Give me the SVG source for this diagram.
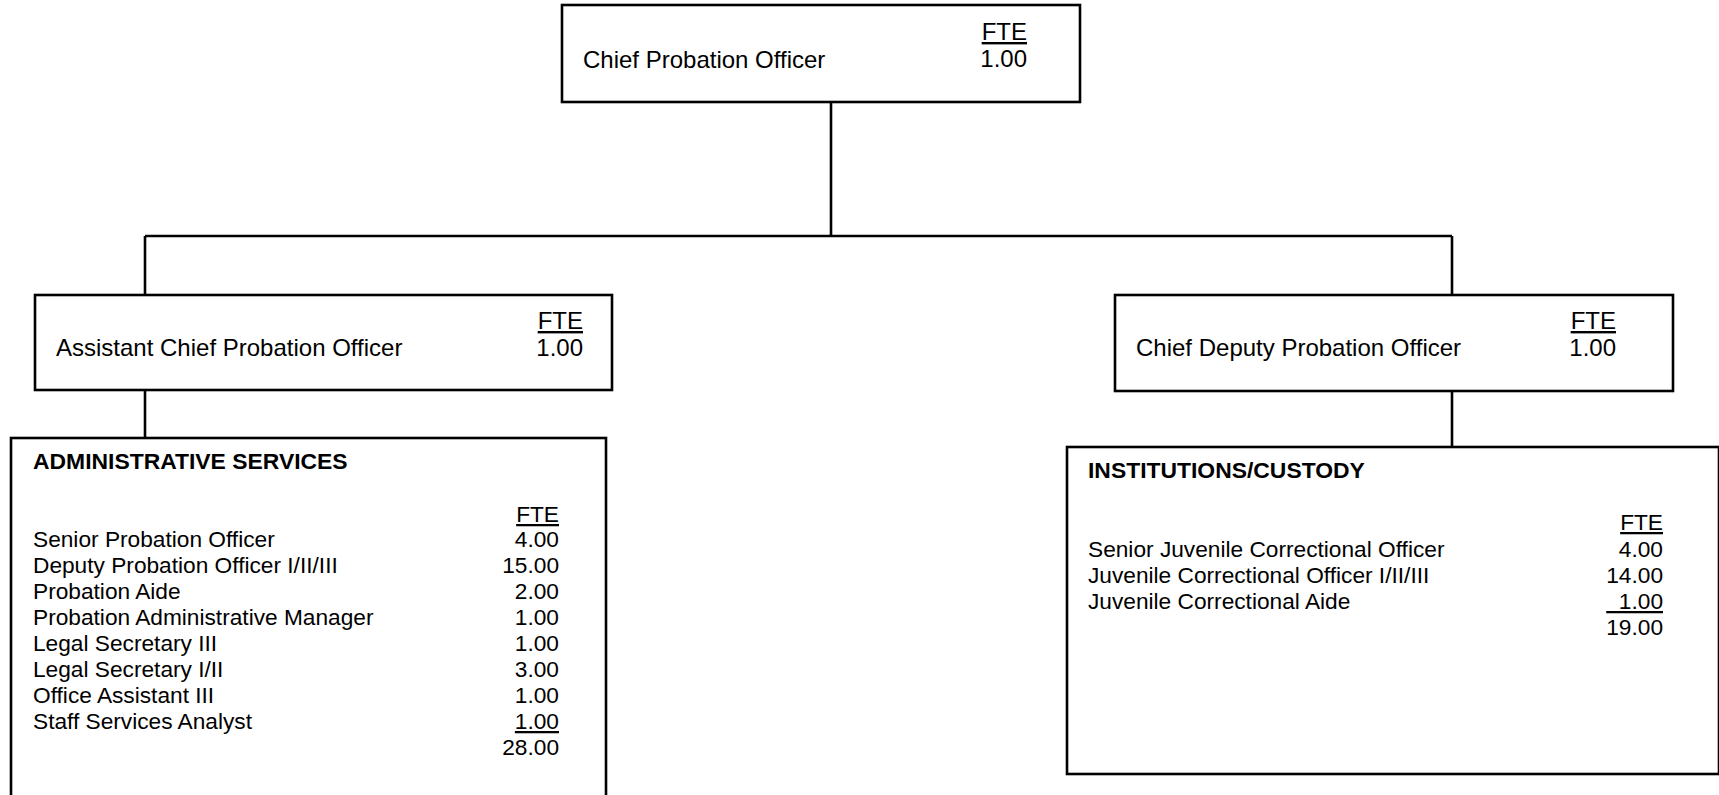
<svg xmlns="http://www.w3.org/2000/svg" width="1719" height="795" viewBox="0 0 1719 795">
<style>
.box{fill:#fff;stroke:#000;stroke-width:2.6}
.ln{stroke:#000;stroke-width:2.6;fill:none}
.t{font-family:"Liberation Sans",Arial,sans-serif;font-size:24px;fill:#000}
.s{font-family:"Liberation Sans",Arial,sans-serif;font-size:22.7px;fill:#000}
.b{font-family:"Liberation Sans",Arial,sans-serif;font-size:22.9px;font-weight:bold;fill:#000}
.r{text-anchor:end}
.u{text-decoration:underline}
</style>
<rect width="1719" height="795" fill="#fff"/>
<g id="connectors">
<line class="ln" x1="831" y1="102" x2="831" y2="236"/>
<line class="ln" x1="145" y1="236" x2="1452" y2="236"/>
<line class="ln" x1="145" y1="236" x2="145" y2="295"/>
<line class="ln" x1="1452" y1="236" x2="1452" y2="295"/>
<line class="ln" x1="145" y1="390" x2="145" y2="438"/>
<line class="ln" x1="1452" y1="391" x2="1452" y2="447"/>
</g>
<g id="chief">
<rect class="box" x="562" y="5" width="518" height="97"/>
<text class="t" x="583" y="68">Chief Probation Officer</text>
<text class="t r u" x="1027" y="40">FTE</text>
<text class="t r" x="1027" y="67">1.00</text>
</g>
<g id="assistant">
<rect class="box" x="35" y="295" width="577" height="95"/>
<text class="t" x="56" y="356">Assistant Chief Probation Officer</text>
<text class="t r u" x="583" y="329">FTE</text>
<text class="t r" x="583" y="356">1.00</text>
</g>
<g id="deputy">
<rect class="box" x="1115" y="295" width="558" height="96"/>
<text class="t" x="1136" y="356">Chief Deputy Probation Officer</text>
<text class="t r u" x="1616" y="329">FTE</text>
<text class="t r" x="1616" y="356">1.00</text>
</g>
<g id="admin">
<rect class="box" x="11" y="438" width="595" height="370"/>
<text class="b" x="33" y="469">ADMINISTRATIVE SERVICES</text>
<text class="s r u" x="559" y="522">FTE</text>
<text class="s" x="33" y="547">Senior Probation Officer</text>
<text class="s r" x="559" y="547">4.00</text>
<text class="s" x="33" y="573">Deputy Probation Officer I/II/III</text>
<text class="s r" x="559" y="573">15.00</text>
<text class="s" x="33" y="599">Probation Aide</text>
<text class="s r" x="559" y="599">2.00</text>
<text class="s" x="33" y="625">Probation Administrative Manager</text>
<text class="s r" x="559" y="625">1.00</text>
<text class="s" x="33" y="651">Legal Secretary III</text>
<text class="s r" x="559" y="651">1.00</text>
<text class="s" x="33" y="677">Legal Secretary I/II</text>
<text class="s r" x="559" y="677">3.00</text>
<text class="s" x="33" y="703">Office Assistant III</text>
<text class="s r" x="559" y="703">1.00</text>
<text class="s" x="33" y="729">Staff Services Analyst</text>
<text class="s r u" x="559" y="729">1.00</text>
<text class="s r" x="559" y="755">28.00</text>
</g>
<g id="institutions">
<rect class="box" x="1067" y="447" width="652" height="327"/>
<text class="b" x="1088" y="478">INSTITUTIONS/CUSTODY</text>
<text class="s r u" x="1663" y="530">FTE</text>
<text class="s" x="1088" y="557">Senior Juvenile Correctional Officer</text>
<text class="s r" x="1663" y="557">4.00</text>
<text class="s" x="1088" y="583">Juvenile Correctional Officer I/II/III</text>
<text class="s r" x="1663" y="583">14.00</text>
<text class="s" x="1088" y="609">Juvenile Correctional Aide</text>
<text class="s r u" x="1663" y="609" xml:space="preserve" style="white-space:pre">  1.00</text>
<text class="s r" x="1663" y="635">19.00</text>
</g>
</svg>
